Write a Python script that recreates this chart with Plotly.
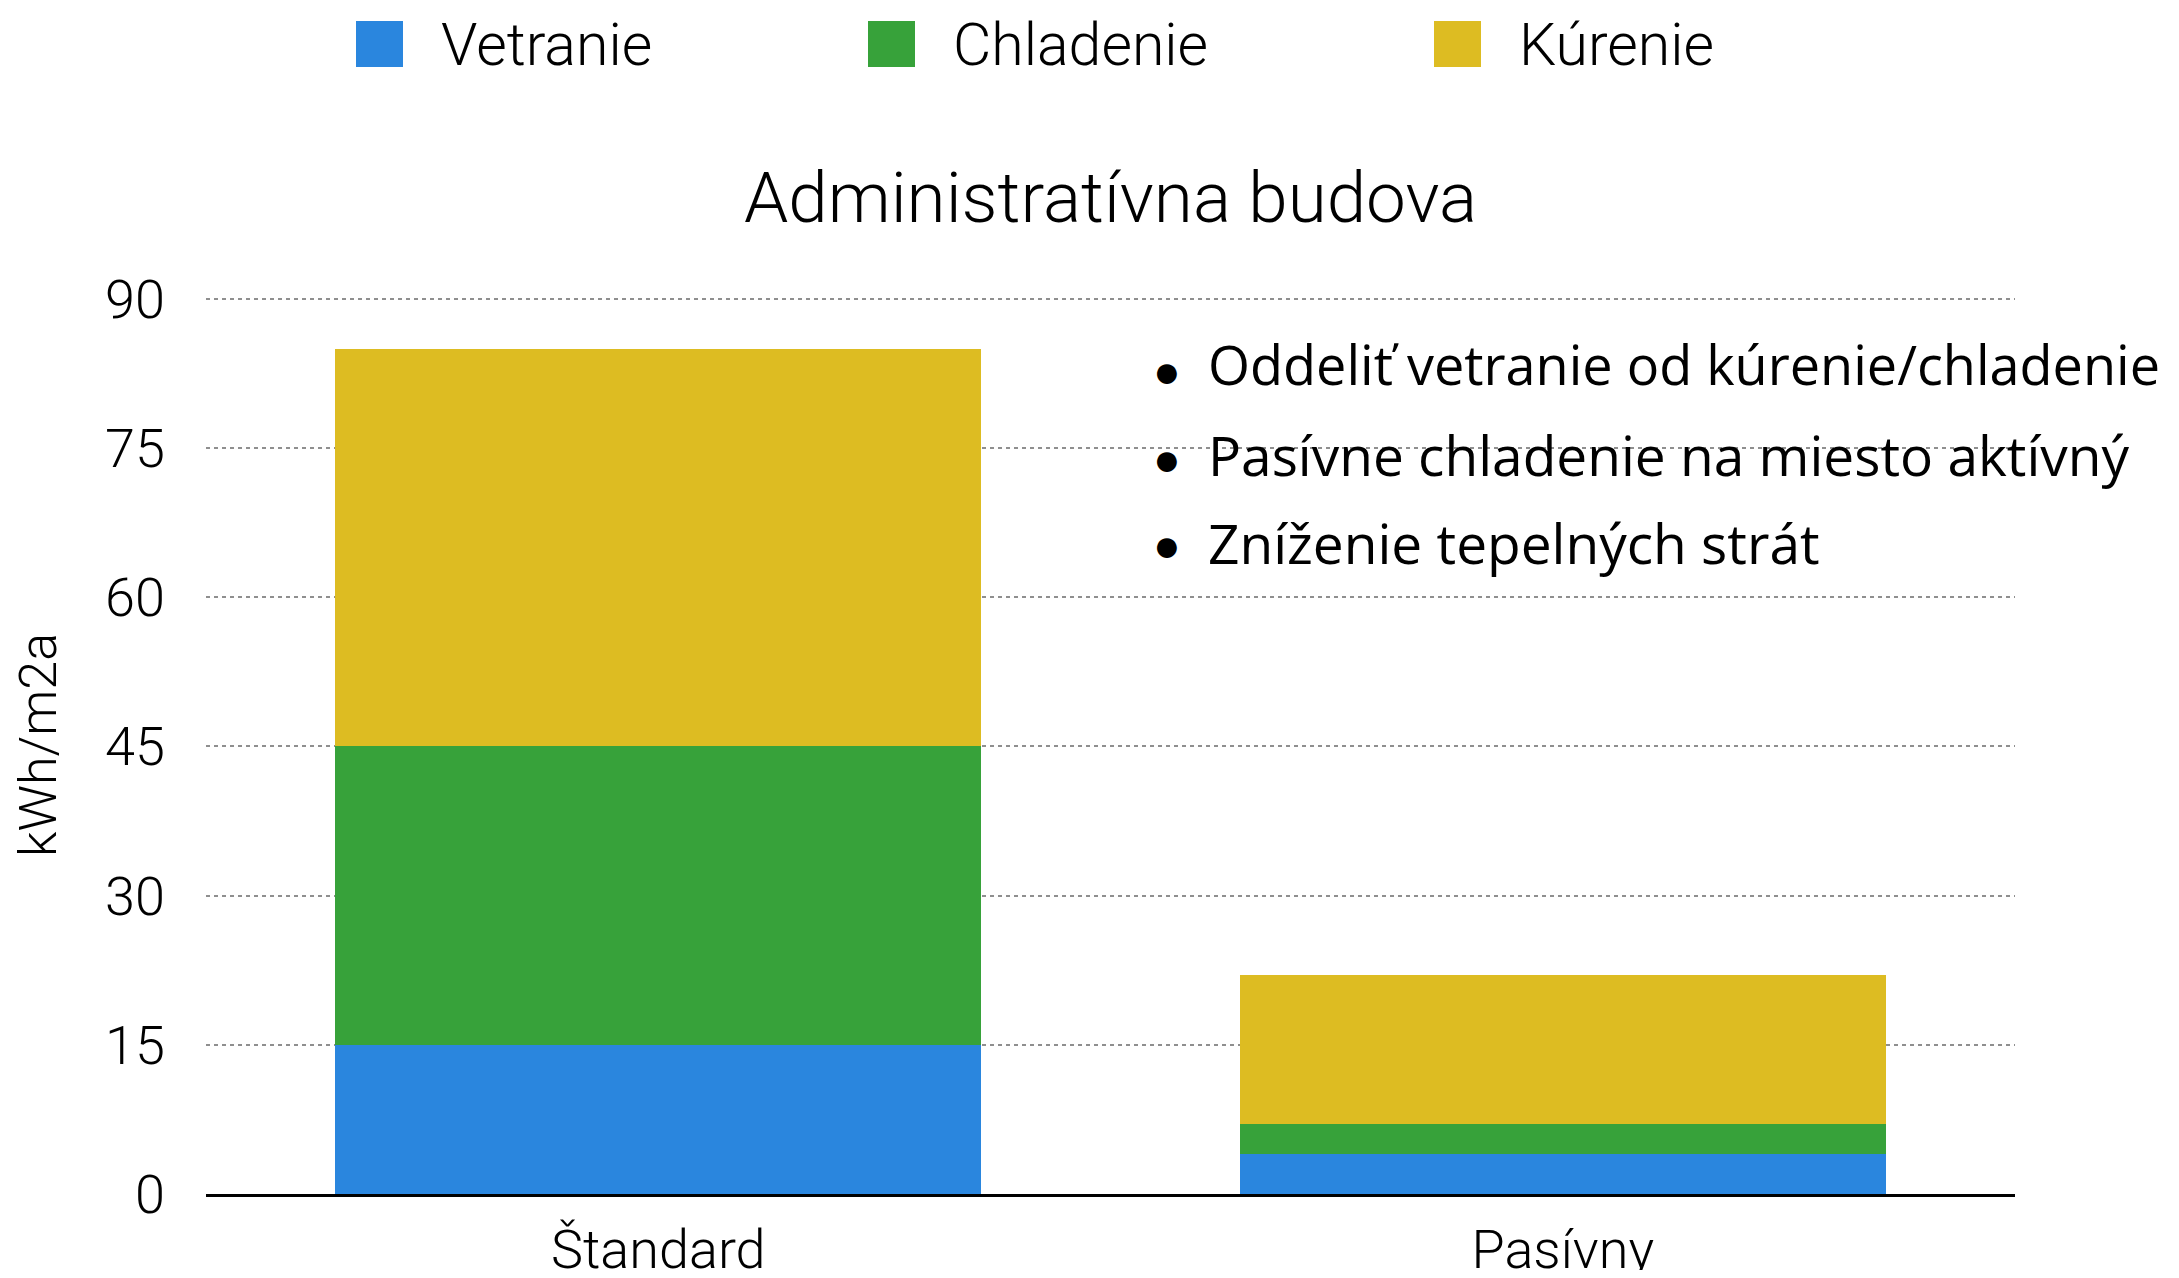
import plotly.graph_objects as go

# ---- data ----
categories = ["Štandard", "Pasívny"]
series_names = ["Vetranie", "Chladenie", "Kúrenie"]
vetranie = [15, 4]
chladenie = [30, 3]
kurenie = [40, 15]
y_ticks = [0, 15, 30, 45, 60, 75, 90]
title_text = "Administratívna budova"
y_title = "kWh/m2a"
notes = [
    "Oddeliť vetranie od kúrenie/chladenie",
    "Pasívne chladenie na miesto aktívný",
    "Zníženie tepelných strát",
]

# ---- layout constants (figure sits at 8px body margin) ----
W, H = 2163, 1262
L, R, T, B = 198, 156, 288, 76
PW, PH = W - L - R, H - T - B
Y_TOP = 90.3


def px(x):
    return (x - L) / PW


def py(y):
    return (H - B - y) / PH


colors = ["#2A86DE", "#37A23A", "#DDBC22"]
FONT = "Roboto"
series_values = [vetranie, chladenie, kurenie]

fig = go.Figure()
for name, vals, col in zip(series_names, series_values, colors):
    fig.add_trace(go.Bar(
        x=categories, y=vals, name=name,
        marker=dict(color=col, line=dict(width=0)),
        showlegend=False, hoverinfo="x+y+name",
    ))

# custom legend (large swatches)
sw_x = [348, 860, 1426]
tx_x = [431, 943, 1509]
shapes = []
annotations = []
for name, col, sx, tx in zip(series_names, colors, sw_x, tx_x):
    shapes.append(dict(type="rect", xref="paper", yref="paper",
                       x0=px(sx), x1=px(sx + 47), y0=py(59), y1=py(13),
                       fillcolor=col, line=dict(width=0)))
    annotations.append(dict(text=name, xref="paper", yref="paper",
                            x=px(tx), y=py(36), xanchor="left", yanchor="middle",
                            showarrow=False,
                            font=dict(family=FONT, size=59, color="#000", weight=300)))

# bullet notes
note_y = [356, 446, 534]
bullet_y = [363, 451, 537]
note_sizes = [54, 55, 55]
for txt, ny, by, fs in zip(notes, note_y, bullet_y, note_sizes):
    annotations.append(dict(text="●", xref="paper", yref="paper",
                            x=px(1159), y=py(by), xanchor="center", yanchor="middle",
                            showarrow=False,
                            font=dict(family="DejaVu Sans", size=46, color="#000")))
    annotations.append(dict(text=txt, xref="paper", yref="paper",
                            x=px(1198), y=py(ny), xanchor="left", yanchor="middle",
                            showarrow=False,
                            font=dict(family="Open Sans", size=fs, color="#000", weight=500)))

fig.update_layout(
    width=W, height=H,
    margin=dict(l=L, r=R, t=T, b=B, autoexpand=False),
    paper_bgcolor="white", plot_bgcolor="white",
    barmode="stack", bargap=0.286,
    title=dict(text=title_text, xref="paper", x=0.5, xanchor="center",
               yref="container", y=1 - 189 / H, yanchor="middle",
               font=dict(family=FONT, size=71, color="#000", weight=300)),
    font=dict(family=FONT, color="#000", weight=300),
    shapes=shapes,
    annotations=annotations,
    showlegend=False,
)
fig.update_xaxes(
    showline=True, linecolor="#000", linewidth=3,
    showgrid=False, ticks="", ticklabelstandoff=6,
    tickfont=dict(family=FONT, size=54, color="#000", weight=300),
)
fig.update_yaxes(
    range=[0, Y_TOP], tickvals=y_ticks, showline=False, zeroline=False,
    showgrid=True, gridcolor="#8F8F8F", gridwidth=2, griddash="4px,4px",
    ticks="", ticklabelstandoff=40,
    tickfont=dict(family=FONT, size=54, color="#000", weight=300),
    title=dict(text=y_title, standoff=40,
               font=dict(family=FONT, size=52, color="#000", weight=300)),
)

fig.write_html("out.html")
